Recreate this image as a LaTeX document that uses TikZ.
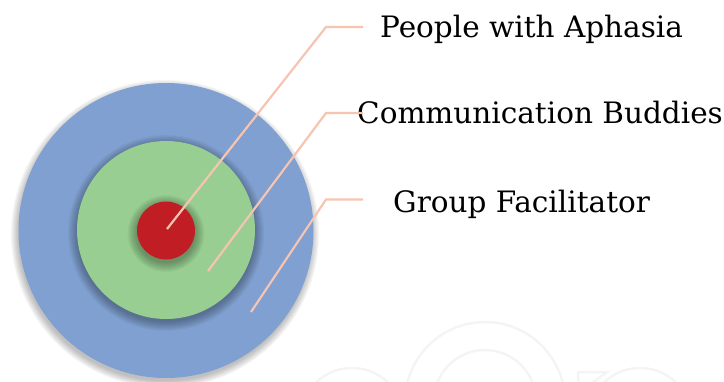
\documentclass[tikz,border=0pt]{standalone}
\usepackage{fontspec}
\setmainfont{DejaVu Serif}
\definecolor{ringblue}{RGB}{127,160,208}
\definecolor{ringgreen}{RGB}{152,206,145}
\definecolor{ringred}{RGB}{192,30,36}
\definecolor{leadcol}{RGB}{246,196,176}
\definecolor{wmcol}{RGB}{244,244,244}
\tikzset{
  ring/.style={circle, inner sep=0pt, draw=none},
  lead/.style={draw=leadcol, line width=2.2pt},
  lbl/.style={inner sep=0pt, anchor=base west, font=\fontsize{29.5}{35}\selectfont},
  wm/.style={draw=wmcol, line width=2.5pt},
  softshade/.style={fill=black, opacity=0.03}
}
\begin{document}
\begin{tikzpicture}[x=1pt,y=-1pt]
\useasboundingbox (0,0) rectangle (724,381);
\clip (0,0) rectangle (724,381);
% faint watermark
\draw[wm] (485,402) circle[radius=80];
\draw[wm] (485,401) circle[radius=51];
\draw[wm] (352,420) circle[radius=52];
\draw[wm] (640,420) circle[radius=52];
\draw[wm] (578,385) -- (578,372) -- (607,372) -- (592,383);
% outer ring with soft shadow
\foreach \i in {1,...,9} \fill[softshade] (165,234) circle[radius=146+\i*0.9];
\node[ring, minimum size=295pt, fill=ringblue] (outer) at (166,230.5) {};
% middle ring with soft shadow
\foreach \i in {1,...,10} \fill[softshade] (166,233) circle[radius=88+\i*1.0];
\node[ring, minimum size=178pt, fill=ringgreen] (middle) at (166,230) {};
% inner ring with soft shadow
\foreach \i in {1,...,10} \fill[softshade] (166,233.5) circle[radius=28.5+\i*1.0];
\node[ring, minimum size=58pt, fill=ringred] (inner) at (166,230.5) {};
% labels
\node[lbl] (pwa) at (380,37) {People with Aphasia};
\node[lbl] (cb) at (357,123) {Communication Buddies};
\node[lbl] (gf) at (393,212.5) {Group Facilitator};
% leader lines
\coordinate (s1) at (167,229);
\coordinate (s2) at (208,271);
\coordinate (s3) at (251,312);
\coordinate (b1) at (326,27);
\coordinate (b2) at (326,113);
\coordinate (b3) at (326,199.5);
\coordinate (e1) at (363,27);
\coordinate (e2) at (363,113);
\coordinate (e3) at (363,199.5);
\draw[lead] (s1) -- (b1) -- (e1);
\draw[lead] (s2) -- (b2) -- (e2);
\draw[lead] (s3) -- (b3) -- (e3);
\end{tikzpicture}
\end{document}
